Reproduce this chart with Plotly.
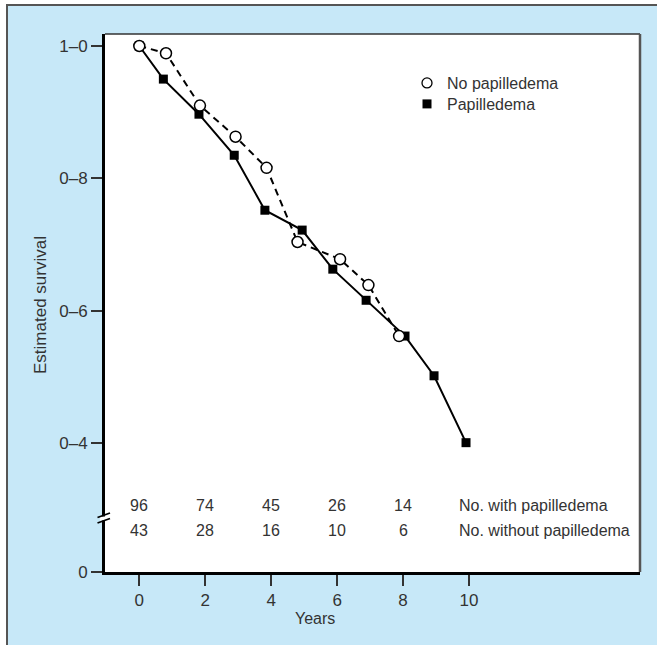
import plotly.graph_objects as go

# ---------------- data ----------------
years_no_pap = [0, 0.81, 1.84, 2.92, 3.86, 4.80, 6.09, 6.95, 7.88]
surv_no_pap = [1.0, 0.989, 0.910, 0.863, 0.816, 0.704, 0.678, 0.639, 0.562]

years_pap = [0, 0.73, 1.81, 2.88, 3.81, 4.94, 5.87, 6.88, 8.06, 8.94, 9.91]
surv_pap = [1.0, 0.950, 0.897, 0.835, 0.752, 0.722, 0.663, 0.616, 0.562, 0.502, 0.401]

risk_years = [0, 2, 4, 6, 8]
n_with_pap = ["96", "74", "45", "26", "14"]
n_without_pap = ["43", "28", "16", "10", "6"]
risk_labels = ["No. with papilledema", "No. without papilledema"]

x_tickvals = [0, 2, 4, 6, 8, 10]
x_ticktext = ["0", "2", "4", "6", "8", "10"]
y_tickvals = [0.2062, 0.4, 0.6, 0.8, 1.0]          # first tick is the broken-axis "0"
y_ticktext = ["0", "0\u20134", "0\u20136", "0\u20138", "1\u20130"]

# ---------------- layout geometry ----------------
W, H = 657, 645
ML, MR, MT, MB = 105, 17, 34, 73
PW, PH = W - ML - MR, H - MT - MB
X_RANGE = [-1.04, 15.187]
Y_RANGE = [0.2057, 1.0181]
Y_ROW1, Y_ROW2 = 0.3058, 0.2691
X_LABEL = 9.63

BLUE = "#c7e8f8"
TXT = "#333333"
FONT = "Liberation Sans, Arial, sans-serif"
FS = 16
FS_TICK = 17


def px(xp):
    return (xp - ML) / PW


def py(yp):
    return (H - MB - yp) / PH


fig = go.Figure()

fig.add_trace(go.Scatter(
    x=years_pap, y=surv_pap, mode="lines+markers", showlegend=False,
    line=dict(color="black", width=2),
    marker=dict(symbol="square", size=9, color="black"),
))
fig.add_trace(go.Scatter(
    x=years_no_pap, y=surv_no_pap, mode="lines+markers", showlegend=False,
    line=dict(color="black", width=2, dash="7px,5px"),
    marker=dict(symbol="circle", size=11, color="white",
                line=dict(color="black", width=1.5)),
))
# legend entries (markers only, as in the reference)
fig.add_trace(go.Scatter(
    x=[None], y=[None], mode="markers", name="No papilledema", legend="legend",
    marker=dict(symbol="circle", size=10, color="white",
                line=dict(color="black", width=1.3)),
))
fig.add_trace(go.Scatter(
    x=[None], y=[None], mode="markers", name="Papilledema", legend="legend2",
    marker=dict(symbol="square", size=9, color="black"),
))

annotations = []
for xv, a, b in zip(risk_years, n_with_pap, n_without_pap):
    annotations.append(dict(x=xv, y=Y_ROW1, text=a, showarrow=False,
                            xanchor="center", yanchor="middle",
                            font=dict(size=FS, color=TXT, family=FONT)))
    annotations.append(dict(x=xv, y=Y_ROW2, text=b, showarrow=False,
                            xanchor="center", yanchor="middle",
                            font=dict(size=FS, color=TXT, family=FONT)))
for yv, lab in zip([Y_ROW1, Y_ROW2], risk_labels):
    annotations.append(dict(x=X_LABEL, y=yv, text=lab, showarrow=False,
                            xanchor="left", yanchor="middle",
                            font=dict(size=FS, color=TXT, family=FONT)))
# axis titles
annotations.append(dict(xref="paper", yref="paper", x=px(315), y=py(619),
                        text="Years", showarrow=False, xanchor="center",
                        yanchor="middle",
                        font=dict(size=FS, color=TXT, family=FONT)))
annotations.append(dict(xref="paper", yref="paper", x=px(40), y=py(305),
                        text="Estimated survival", showarrow=False,
                        textangle=-90, xanchor="center", yanchor="middle",
                        font=dict(size=FS_TICK, color=TXT, family=FONT)))

shapes = [
    # white strip outside the outer frame (top / left)
    dict(type="rect", xref="paper", yref="paper", x0=px(-5), x1=px(6),
         y0=py(-5), y1=py(H + 5), fillcolor="white", line=dict(width=0),
         layer="above"),
    dict(type="rect", xref="paper", yref="paper", x0=px(-5), x1=px(W + 5),
         y0=py(-5), y1=py(4), fillcolor="white", line=dict(width=0),
         layer="above"),
    # outer frame lines
    dict(type="line", xref="paper", yref="paper", x0=px(7), x1=px(7),
         y0=py(4), y1=py(H + 5), line=dict(color="#555555", width=2)),
    dict(type="line", xref="paper", yref="paper", x0=px(6), x1=px(W + 5),
         y0=py(5), y1=py(5), line=dict(color="#555555", width=2)),
    # thin panel border: top and right
    dict(type="line", xref="paper", yref="paper", x0=0, x1=1, y0=1, y1=1,
         line=dict(color="#333333", width=1.5)),
    dict(type="line", xref="paper", yref="paper", x0=1, x1=1, y0=0, y1=1,
         line=dict(color="#555555", width=2.5)),
    # axis break on the y axis
    dict(type="rect", xref="paper", yref="paper", x0=px(100), x1=px(107),
         y0=py(520.5), y1=py(516.5), fillcolor="white", line=dict(width=0),
         layer="above"),
    dict(type="line", xref="paper", yref="paper", x0=px(97.5), x1=px(110),
         y0=py(517.5), y1=py(513), line=dict(color="black", width=1.8)),
    dict(type="line", xref="paper", yref="paper", x0=px(97.5), x1=px(110),
         y0=py(523), y1=py(518.5), line=dict(color="black", width=1.8)),
]

leg_common = dict(xanchor="left", yanchor="top", bgcolor="rgba(0,0,0,0)",
                  borderwidth=0, itemwidth=30,
                  font=dict(size=FS, color=TXT, family=FONT))

fig.update_layout(
    width=W, height=H,
    margin=dict(l=ML, r=MR, t=MT, b=MB, pad=0),
    paper_bgcolor=BLUE,
    plot_bgcolor="white",
    font=dict(family=FONT, size=FS, color=TXT),
    showlegend=True,
    legend=dict(x=px(407), y=py(66), **leg_common),
    legend2=dict(x=px(407), y=py(87), **leg_common),
    annotations=annotations,
    shapes=shapes,
    xaxis=dict(range=X_RANGE, tickvals=x_tickvals, ticktext=x_ticktext,
               showgrid=False, zeroline=False, showline=True,
               linecolor="black", linewidth=3, ticks="outside",
               ticklen=11, tickwidth=1.5, tickcolor="#333333",
               tickfont=dict(size=FS_TICK, color=TXT, family=FONT)),
    yaxis=dict(range=Y_RANGE, tickvals=y_tickvals, ticktext=y_ticktext,
               showgrid=False, zeroline=False, showline=True,
               linecolor="black", linewidth=3, ticks="outside",
               ticklen=11, tickwidth=1.5, tickcolor="#333333",
               tickfont=dict(size=FS_TICK, color=TXT, family=FONT)),
)

fig.write_html("out.html", config={"displayModeBar": False},
               post_script="document.body.style.margin='0px';")
